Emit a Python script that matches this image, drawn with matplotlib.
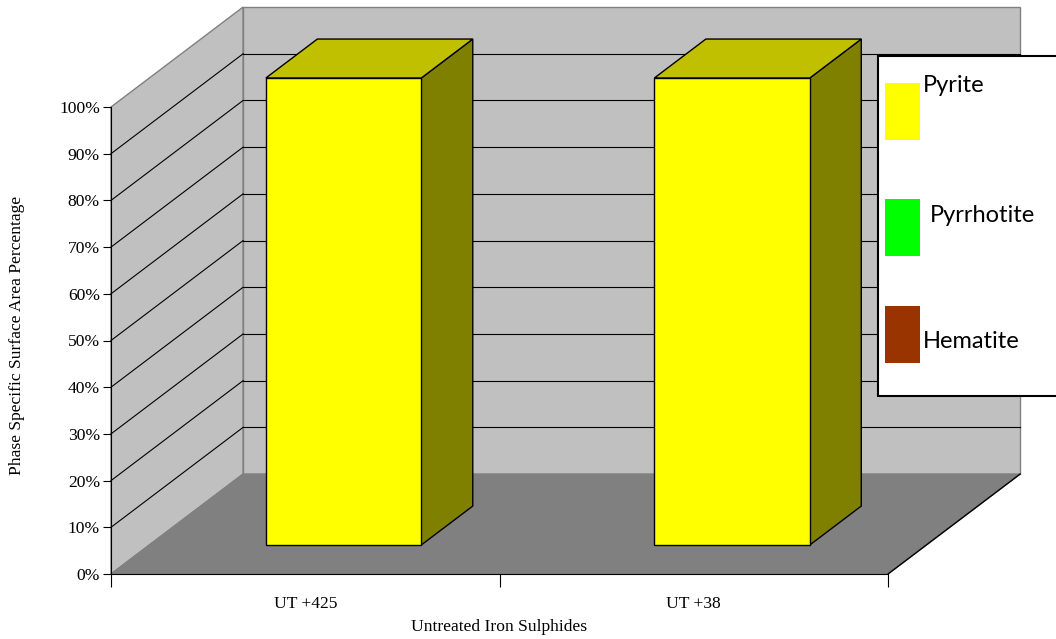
import matplotlib.pyplot as plt
from matplotlib.patches import Polygon, Rectangle

categories = ["UT +425", "UT +38"]
series_names = ["Pyrite", "Pyrrhotite", "Hematite"]
pyrite = [100, 100]
pyrrhotite = [0, 0]
hematite = [0, 0]
y_ticks = [0, 10, 20, 30, 40, 50, 60, 70, 80, 90, 100]
y_tick_labels = [f"{v}%" for v in y_ticks]

face_colors = ["#ffff00", "#00ff00", "#993300"]
top_colors = ["#c0c000", "#00c000", "#732600"]
side_colors = ["#808000", "#008000", "#4d1a00"]

# depth of the pseudo-3d box, in data units
DX = 0.34
DY = 21.4
BAR_W = 0.4
Z0, Z1 = 0.29, 0.68

serif = "Liberation Serif"
fs = 12.6


def proj(x, y, z):
    return (x + z * DX, y + z * DY)


def poly(ax, pts, fc, ec, lw=0.8, zorder=1):
    ax.add_patch(Polygon(pts, closed=True, facecolor=fc, edgecolor=ec,
                         linewidth=lw, zorder=zorder, clip_on=False))


def draw_box(ax, x0, x1, y0, y1, i, zorder):
    front = [proj(x0, y0, Z0), proj(x1, y0, Z0), proj(x1, y1, Z0), proj(x0, y1, Z0)]
    top = [proj(x0, y1, Z0), proj(x1, y1, Z0), proj(x1, y1, Z1), proj(x0, y1, Z1)]
    side = [proj(x1, y0, Z0), proj(x1, y0, Z1), proj(x1, y1, Z1), proj(x1, y1, Z0)]
    poly(ax, side, side_colors[i], "black", 1.0, zorder)
    poly(ax, top, top_colors[i], "black", 1.0, zorder)
    poly(ax, front, face_colors[i], "black", 1.0, zorder)


fig = plt.figure(figsize=(10.56, 6.39), dpi=100)
ax = fig.add_axes([111 / 1056, 65 / 639, 777 / 1056, 467 / 639])
n = len(categories)
ax.set_xlim(0, n)
ax.set_ylim(0, 100)
ax.patch.set_visible(False)

# walls and floor
poly(ax, [proj(0, 0, 0), proj(0, 100, 0), proj(0, 100, 1), proj(0, 0, 1)], "#c0c0c0", "#808080", 1.0, 0)
poly(ax, [proj(0, 0, 1), proj(n, 0, 1), proj(n, 100, 1), proj(0, 100, 1)], "#c0c0c0", "#808080", 1.0, 0)
for v in y_ticks[1:-1]:
    ax.plot(*zip(proj(0, v, 0), proj(0, v, 1)), color="black", lw=0.8, zorder=1, clip_on=False)
    ax.plot(*zip(proj(0, v, 1), proj(n, v, 1)), color="black", lw=0.8, zorder=1, clip_on=False)
poly(ax, [proj(0, 0, 0), proj(n, 0, 0), proj(n, 0, 1), proj(0, 0, 1)], "#808080", "#808080", 1.0, 2)
ax.plot(*zip(proj(n, 0, 0), proj(n, 0, 1)), color="black", lw=1.0, zorder=2, clip_on=False)

# stacked bars
for j in range(n):
    c = j + 0.5
    base = 0
    for i, vals in enumerate([pyrite, pyrrhotite, hematite]):
        if vals[j] > 0:
            draw_box(ax, c - BAR_W / 2, c + BAR_W / 2, base, base + vals[j], i, 3 + i)
        base += vals[j]

for s in ["top", "right"]:
    ax.spines[s].set_visible(False)
ax.spines["left"].set_zorder(5)
ax.spines["bottom"].set_zorder(5)

ax.set_yticks(y_ticks)
ax.set_yticklabels(y_tick_labels, fontsize=fs, family=serif)
ax.tick_params(axis="y", direction="out", length=6, width=0.8, pad=2)
ax.set_xticks(range(n + 1))
ax.set_xticklabels([])
ax.set_xticks([j + 0.5 for j in range(n)], minor=True)
ax.set_xticklabels(categories, minor=True, fontsize=fs, family=serif)
ax.tick_params(axis="x", which="major", direction="out", length=9, width=0.8)
ax.tick_params(axis="x", which="minor", length=0, pad=16)

ax.set_ylabel("Phase Specific Surface Area Percentage", fontsize=fs, family=serif)
ax.set_xlabel("Untreated Iron Sulphides", fontsize=fs, family=serif)
ax.yaxis.set_label_coords(-0.111, 0.51)
ax.xaxis.set_label_coords(0.5, -0.097)

# legend box (partly cut by the figure edge)
fig.add_artist(Rectangle((878 / 1056, 1 - 396 / 639), 200 / 1056, 340 / 639,
                         transform=fig.transFigure, facecolor="white",
                         edgecolor="black", linewidth=1.5, zorder=10, clip_on=False))
legend_rows = [(83, 86, 923), (199, 215, 930), (306, 342, 923)]
for (rect_top, text_y, text_x), name, color in zip(legend_rows, series_names, face_colors):
    fig.add_artist(Rectangle((885 / 1056, 1 - (rect_top + 57) / 639), 35 / 1056, 57 / 639,
                             transform=fig.transFigure, facecolor=color,
                             edgecolor="none", zorder=11))
    fig.text(text_x / 1056, 1 - text_y / 639, name, fontsize=17, family="Lato",
             va="center", ha="left", zorder=12)

fig.savefig("out.png", dpi=100)
